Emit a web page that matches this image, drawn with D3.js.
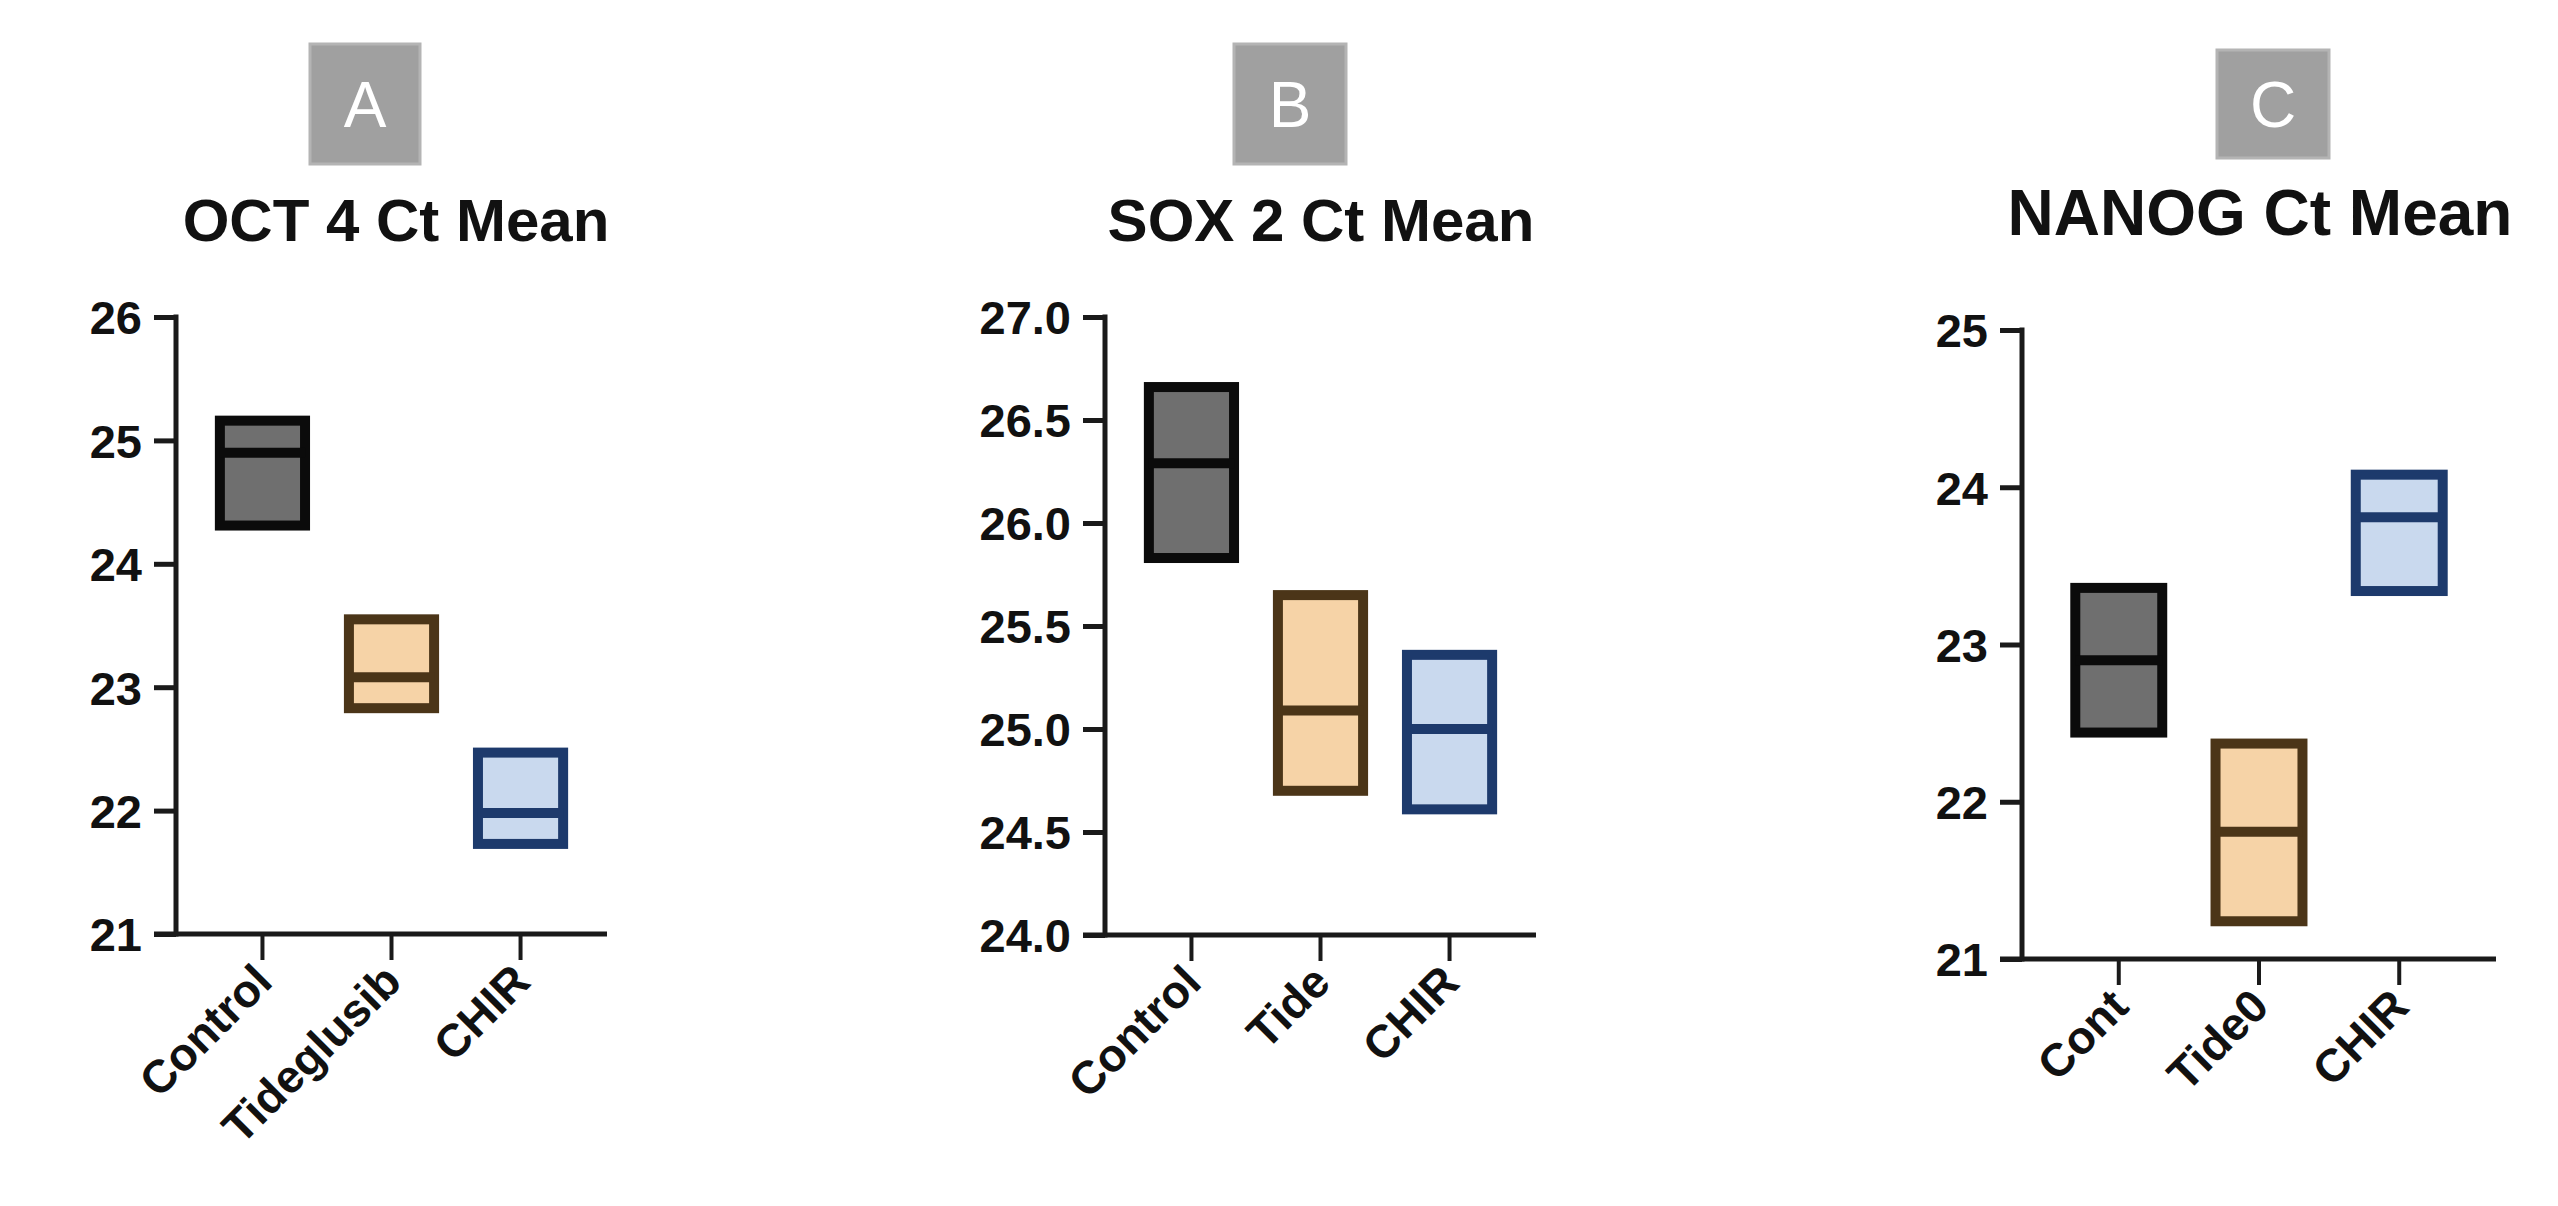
<!DOCTYPE html>
<html>
<head>
<meta charset="utf-8">
<script src="https://cdn.jsdelivr.net/npm/d3@7"></script>
<style>
  html, body { margin: 0; padding: 0; background: #ffffff; }
  svg { display: block; }
  text { font-family: "Liberation Sans", Arial, "DejaVu Sans", sans-serif; }
</style>
</head>
<body>
<svg id="chart" width="2558" height="1206"></svg>
<script>
// ---------------- DATA ----------------
const badges = ["A", "B", "C"];
const titles = ["OCT 4 Ct Mean", "SOX 2 Ct Mean", "NANOG Ct Mean"];

const categoriesA = ["Control", "Tideglusib", "CHIR"];
const categoriesB = ["Control", "Tide", "CHIR"];
const categoriesC = ["Cont", "Tide0", "CHIR"];

// floating bars: min, max, mean line
const lowA  = [24.31, 22.83, 21.73];
const highA = [25.16, 23.55, 22.47];
const meanA = [24.90, 23.08, 21.98];

const lowB  = [25.83, 24.70, 24.61];
const highB = [26.66, 25.65, 25.36];
const meanB = [26.29, 25.09, 25.00];

const lowC  = [22.44, 21.24, 23.34];
const highC = [23.36, 22.37, 24.08];
const meanC = [22.90, 21.81, 23.81];

const ticksA = [21, 22, 23, 24, 25, 26];
const ticksB = [24.0, 24.5, 25.0, 25.5, 26.0, 26.5, 27.0];
const ticksC = [21, 22, 23, 24, 25];

// ---------------- STYLE / LAYOUT ----------------
const fills   = ["#6f6f6f", "#f6d3a7", "#c9d9ee"];
const strokes = ["#0b0b0b", "#4b3518", "#1d3a6c"];

const panels = [
  { badge: badges[0], title: titles[0], cats: categoriesA, low: lowA, high: highA, mean: meanA,
    ticks: ticksA, fmt: d3.format("d"),
    x0: 176, x1: 607, yTop: 317, yBot: 934, pad: 0.34,
    bx: 310, by: 44, bw: 110, bh: 120, tx: 396, ty: 241, tfs: 60 },
  { badge: badges[1], title: titles[1], cats: categoriesB, low: lowB, high: highB, mean: meanB,
    ticks: ticksB, fmt: d3.format(".1f"),
    x0: 1105, x1: 1536, yTop: 317, yBot: 935, pad: 0.34,
    bx: 1234, by: 44, bw: 112, bh: 120, tx: 1321, ty: 241, tfs: 60 },
  { badge: badges[2], title: titles[2], cats: categoriesC, low: lowC, high: highC, mean: meanC,
    ticks: ticksC, fmt: d3.format("d"),
    x0: 2022, x1: 2496, yTop: 330, yBot: 959, pad: 0.38,
    bx: 2217, by: 50, bw: 112, bh: 108, tx: 2260, ty: 235, tfs: 64 }
];

const svg = d3.select("#chart");
svg.append("rect").attr("width", 2558).attr("height", 1206).attr("fill", "#ffffff");

panels.forEach(p => {
  const g = svg.append("g");

  // badge
  g.append("rect")
    .attr("x", p.bx).attr("y", p.by).attr("width", p.bw).attr("height", p.bh)
    .attr("fill", "#a0a0a0").attr("stroke", "#b4b4b4").attr("stroke-width", 3);
  g.append("text")
    .attr("x", p.bx + p.bw / 2).attr("y", p.by + p.bh / 2 + 23)
    .attr("text-anchor", "middle")
    .attr("font-size", 64).attr("fill", "#ffffff")
    .text(p.badge);

  // title
  g.append("text")
    .attr("x", p.tx).attr("y", p.ty)
    .attr("text-anchor", "middle")
    .attr("font-size", p.tfs).attr("font-weight", "bold").attr("fill", "#111")
    .text(p.title);

  const dom = d3.extent(p.ticks);
  const y = d3.scaleLinear().domain(dom).range([p.yBot, p.yTop]);
  const x = d3.scaleBand().domain(p.cats).range([p.x0, p.x1])
    .paddingInner(p.pad).paddingOuter(p.pad);

  // y axis
  const ya = g.append("g").attr("transform", `translate(${p.x0},0)`)
    .call(d3.axisLeft(y).tickValues(p.ticks).tickFormat(p.fmt).tickSize(22).tickSizeOuter(0).tickPadding(12));
  ya.select(".domain").attr("stroke", "#1a1a1a").attr("stroke-width", 5)
    .attr("d", `M0,${p.yBot + 2.5}V${p.yTop - 2.5}`);
  ya.selectAll(".tick line").attr("stroke", "#1a1a1a").attr("stroke-width", 5);
  ya.selectAll(".tick text")
    .attr("font-size", 47).attr("font-weight", "bold").attr("fill", "#111")
    .attr("font-family", "'Liberation Sans', Arial, sans-serif")
    .attr("dy", "0.36em");

  // x axis
  const xa = g.append("g").attr("transform", `translate(0,${p.yBot})`)
    .call(d3.axisBottom(x).tickSize(26).tickSizeOuter(0).tickFormat(""));
  xa.select(".domain").attr("stroke", "#1a1a1a").attr("stroke-width", 5)
    .attr("d", `M${p.x0 - 22},0H${p.x1}`);
  xa.selectAll(".tick line").attr("stroke", "#1a1a1a").attr("stroke-width", 4);

  // rotated category labels
  g.selectAll("text.cat").data(p.cats).enter().append("text")
    .attr("class", "cat")
    .attr("transform", d => `translate(${x(d) + x.bandwidth() / 2 + 12},${p.yBot + 50}) rotate(-45)`)
    .attr("text-anchor", "end")
    .attr("font-size", 46).attr("font-weight", "bold").attr("fill", "#111")
    .text(d => d);

  // floating bars
  const rows = p.cats.map((c, i) => ({ c, i, lo: p.low[i], hi: p.high[i], m: p.mean[i] }));
  g.selectAll("rect.bar").data(rows).enter().append("rect")
    .attr("class", "bar")
    .attr("x", d => x(d.c)).attr("width", x.bandwidth())
    .attr("y", d => y(d.hi)).attr("height", d => y(d.lo) - y(d.hi))
    .attr("fill", d => fills[d.i]).attr("stroke", d => strokes[d.i]).attr("stroke-width", 10);
  g.selectAll("line.mean").data(rows).enter().append("line")
    .attr("class", "mean")
    .attr("x1", d => x(d.c)).attr("x2", d => x(d.c) + x.bandwidth())
    .attr("y1", d => y(d.m)).attr("y2", d => y(d.m))
    .attr("stroke", d => strokes[d.i]).attr("stroke-width", 10);
});
</script>
</body>
</html>
